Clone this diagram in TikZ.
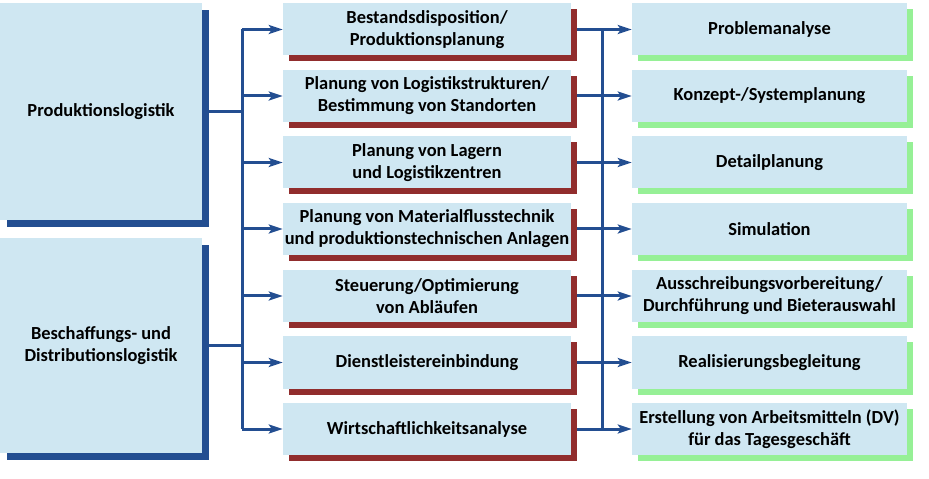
\documentclass[tikz,border=0pt]{standalone}
\usepackage{fontspec}
\setmainfont{Carlito}
\usetikzlibrary{arrows.meta,shadows,backgrounds}
\definecolor{boxfill}{RGB}{207,231,242}
\definecolor{navy}{RGB}{35,78,145}
\definecolor{shadowred}{RGB}{145,45,45}
\definecolor{shadowgreen}{RGB}{150,240,150}
\begin{document}
\begin{tikzpicture}[x=1bp,y=-1bp,
  base/.style={draw=none, fill=boxfill, inner sep=0pt, align=center,
    font=\fontsize{18.5}{22}\selectfont\bfseries},
  leftbox/.style={base, minimum width=202bp,
    drop shadow={shadow xshift=7bp, shadow yshift=-7bp, fill=navy, opacity=1}},
  midbox/.style={base, minimum width=288bp, minimum height=52bp,
    drop shadow={shadow xshift=6bp, shadow yshift=-6bp, fill=shadowred, opacity=1}},
  rightbox/.style={base, minimum width=275bp, minimum height=52bp,
    drop shadow={shadow xshift=6bp, shadow yshift=-6bp, fill=shadowgreen, opacity=1}},
  conn/.style={draw=navy, line width=3bp},
  arr/.style={conn, -{Stealth[length=14bp,width=9bp,inset=3bp]}}]
\useasboundingbox (0,0) rectangle (929,479);

\node[leftbox, minimum height=217bp] (L1) at (101,111.5) {Produktionslogistik};
\node[leftbox, minimum height=215bp] (L2) at (101,345.5) {Beschaffungs- und\\Distributionslogistik};

\node[midbox] (M1) at (427,29.5) {Bestandsdisposition/\\Produktionsplanung};
\node[midbox] (M2) at (427,96) {Planung von Logistikstrukturen/\\Bestimmung von Standorten};
\node[midbox] (M3) at (427,162.5) {Planung von Lagern\\und Logistikzentren};
\node[midbox] (M4) at (427,229) {Planung von Materialflusstechnik\\und produktionstechnischen Anlagen};
\node[midbox] (M5) at (427,296) {Steuerung/Optimierung\\von Abläufen};
\node[midbox] (M6) at (427,362.5) {Dienstleistereinbindung};
\node[midbox] (M7) at (427,429) {Wirtschaftlichkeitsanalyse};

\node[rightbox] (R1) at (769.5,29.5) {Problemanalyse};
\node[rightbox] (R2) at (769.5,96) {Konzept-/Systemplanung};
\node[rightbox] (R3) at (769.5,162.5) {Detailplanung};
\node[rightbox] (R4) at (769.5,229) {Simulation};
\node[rightbox] (R5) at (769.5,296) {Ausschreibungsvorbereitung/\\Durchführung und Bieterauswahl};
\node[rightbox] (R6) at (769.5,362.5) {Realisierungsbegleitung};
\node[rightbox] (R7) at (769.5,429) {Erstellung von Arbeitsmitteln (DV)\\für das Tagesgeschäft};

\coordinate (BL) at (242,0);
\coordinate (BR) at (602,0);
\begin{scope}[on background layer]
  \draw[conn] (BL |- M1.west) -- (BL |- M7.west);
  \draw[conn] (L1.east) -- (L1.east -| BL);
  \draw[conn] (L2.east) -- (L2.east -| BL);
  \draw[conn] (BR |- M1.east) -- (BR |- M7.east);
  \foreach \i in {1,...,7}{
    \draw[arr] (BL |- M\i.west) -- (M\i.west);
    \draw[arr] (M\i.east) -- (R\i.west);
  }
\end{scope}
\end{tikzpicture}
\end{document}
